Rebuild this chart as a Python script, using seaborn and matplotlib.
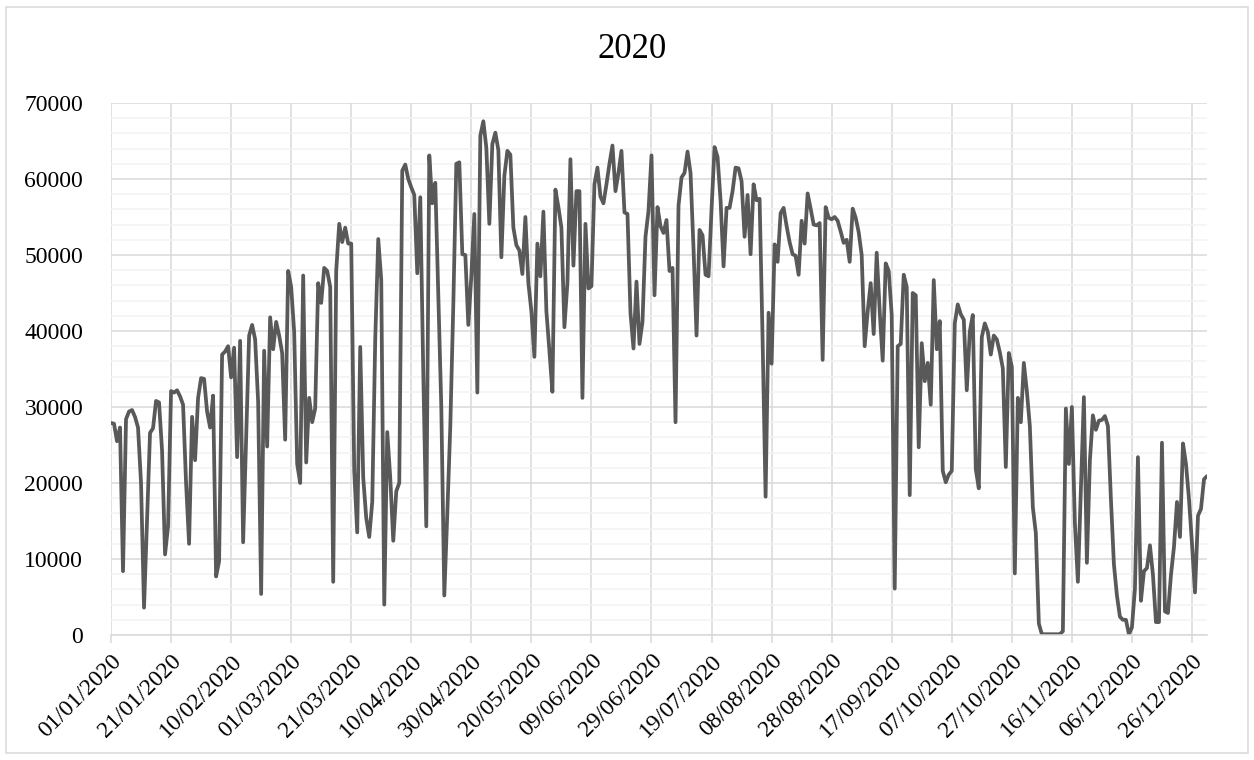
import numpy as np
import pandas as pd
import matplotlib
matplotlib.use("Agg")
import matplotlib.pyplot as plt
import seaborn as sns
from matplotlib.patches import Rectangle
from matplotlib.ticker import MultipleLocator

# Daily values for 2020, one list per month
jan = [27900, 27800, 25500, 27300, 8400, 28400, 29400, 29600, 28700, 27300, 20000,
       3600, 15000, 26600, 27200, 30800, 30600, 24300, 10600, 14300, 32100, 31900,
       32200, 31400, 30300, 20000, 12000, 28700, 23000, 31200, 33800]
feb = [33700, 29400, 27300, 31500, 7700, 9700, 36900, 37300, 38000, 33900, 37800,
       23400, 38700, 12200, 26000, 39400, 40800, 38900, 30700, 5400, 37400, 24800,
       41800, 37600, 41200, 39400, 37100, 25700, 47900]
mar = [45800, 39900, 22500, 20000, 47300, 22700, 31200, 28000, 29800, 46300, 43700,
       48300, 47900, 45800, 7000, 47900, 54100, 51700, 53600, 51500, 51500, 21600,
       13500, 37900, 20700, 15400, 12900, 17500, 38900, 52100, 46700]
apr = [4000, 26700, 20700, 12400, 18900, 20000, 61100, 61900, 60000, 58900, 57900,
       47600, 57600, 34400, 14300, 63100, 56800, 59500, 45000, 30000, 5200, 16000,
       27500, 43500, 62000, 62200, 50100, 50000, 40800, 47200]
may = [55400, 31900, 65700, 67600, 64100, 54100, 64600, 66100, 63800, 49700, 60400,
       63700, 63200, 53600, 51300, 50600, 47500, 55000, 46300, 42600, 36600, 51500,
       47200, 55700, 42600, 37400, 32000, 58600, 56300, 53600, 40500]
jun = [46300, 62600, 48600, 58400, 58400, 31200, 54100, 45600, 45900, 59300, 61500,
       57700, 56800, 59300, 62000, 64400, 58400, 60800, 63700, 55600, 55400, 42400,
       37700, 46500, 38300, 41200, 52400, 55800, 63100, 44700]
jul = [56300, 53800, 52900, 54600, 47900, 48300, 28000, 56500, 60200, 60800, 63600,
       60800, 50800, 39400, 53300, 52600, 47400, 47200, 56000, 64200, 62900, 57200,
       48500, 56200, 56200, 58400, 61500, 61400, 59700, 52400, 57900]
aug = [50100, 59300, 57200, 57400, 38900, 18200, 42400, 35700, 51400, 49100, 55500,
       56200, 53800, 51700, 50100, 49900, 47400, 54500, 51500, 58100, 56100, 54000,
       53900, 54200, 36200, 56300, 54900, 54700, 55000, 54500, 53100]
sep = [51600, 52000, 49100, 56100, 54900, 53000, 50000, 38000, 42600, 46300, 39600,
       50300, 42600, 36100, 48900, 47900, 42100, 6100, 38000, 38300, 47400, 45800,
       18400, 45000, 44700, 24700, 38400, 33400, 35800, 30300]
oct_ = [46700, 37600, 41300, 21600, 20100, 21100, 21600, 41000, 43500, 42200, 41500,
        32200, 39900, 42100, 21800, 19300, 39200, 41000, 39900, 36900, 39400, 38900,
        37200, 35100, 22100, 37100, 35300, 8100, 31200, 28000, 35800]
nov = [32100, 27500, 16800, 13400, 1500, 100, 100, 100, 100, 100, 100, 100, 500,
       29800, 22500, 30000, 14700, 7000, 19000, 31300, 9500, 23000, 28900, 27000,
       28200, 28300, 28800, 27500, 17900, 9300]
dec = [5200, 2400, 2000, 2000, 100, 1000, 6100, 23400, 4500, 8400, 8800, 11800,
       7900, 1700, 1700, 25300, 3100, 2900, 7900, 11600, 17500, 12900, 25200, 22500,
       17900, 12000, 5600, 15700, 16600, 20500, 20900]

values = jan + feb + mar + apr + may + jun + jul + aug + sep + oct_ + nov + dec
dates = pd.date_range("2020-01-01", periods=len(values), freq="D")
title = "2020"
tick_step = 20

df = pd.DataFrame({"day": np.arange(len(values)), "value": values})

sns.set_theme(style="white")
plt.rcParams['font.family'] = ['Liberation Serif', 'DejaVu Serif']

W, H = 1254, 760
fig = plt.figure(figsize=(W / 100, H / 100), dpi=100)
fig.patch.set_facecolor("white")
L, R, T, B = 111, 1207, 103, 635
ax = fig.add_axes([L / W, 1 - B / H, (R - L) / W, (B - T) / H])

sns.lineplot(data=df, x="day", y="value", ax=ax, color="#595959",
             linewidth=2.7, solid_joinstyle="round", solid_capstyle="round")

ax.set_xlim(0, len(values) - 1)
ax.set_ylim(0, 70000)
ax.set_axisbelow(True)

ax.yaxis.set_major_locator(MultipleLocator(10000))
ax.yaxis.set_minor_locator(MultipleLocator(2000))
ax.grid(which="major", axis="y", color="#D9D9D9", linewidth=1.1)
ax.grid(which="minor", axis="y", color="#F2F2F2", linewidth=1.1)

tick_pos = list(range(0, len(values), tick_step))
ax.set_xticks(tick_pos)
ax.set_xticklabels([dates[i].strftime("%d/%m/%Y") for i in tick_pos],
                   rotation=45, ha="right", rotation_mode="anchor")
ax.grid(which="major", axis="x", color="#D9D9D9", linewidth=1.1)

ax.set_xlabel("")
ax.set_ylabel("")
for s in ["top", "right", "left"]:
    ax.spines[s].set_visible(False)
ax.spines["bottom"].set_color("#D9D9D9")
ax.spines["bottom"].set_linewidth(1.1)

ax.tick_params(axis="x", which="major", direction="out", length=6, width=1.1,
               color="#D9D9D9", labelsize=17, pad=5, labelcolor="black", bottom=True)
ax.tick_params(axis="y", which="both", length=0, labelsize=17, pad=20, labelcolor="black")

fig.text(632 / W, 1 - 50 / H, title, ha="center", va="center", fontsize=25, color="black")

fig.add_artist(Rectangle((6 / W, 1 - 753 / H), (1248 - 6) / W, (753 - 7) / H,
                         transform=fig.transFigure, fill=False,
                         edgecolor="#D9D9D9", linewidth=1.1))

fig.savefig("out.png", dpi=100, facecolor="white")
